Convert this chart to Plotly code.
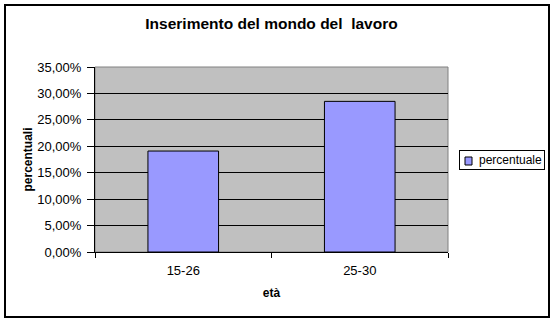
import plotly.graph_objects as go

categories = ["15-26", "25-30"]
values = [0.191, 0.285]
series_name = "percentuale"
y_ticks = [0, 0.05, 0.10, 0.15, 0.20, 0.25, 0.30, 0.35]

FONT = "Arial, Liberation Sans, sans-serif"
BAR_COLOR = "#9999FF"

# plot area in pixels
L, R, T, B = 95, 448, 67, 252
W, H = 556, 323
PW, PH = R - L, B - T


def px(x):
    return (x - L) / PW


def py(y):
    return (B - y) / PH


fig = go.Figure()
fig.add_trace(go.Bar(
    x=categories, y=values, name=series_name,
    marker=dict(color=BAR_COLOR, line=dict(color="black", width=1)),
    width=0.4, showlegend=False,
))

fig.update_layout(
    width=W, height=H,
    margin=dict(l=L, r=W - R, t=T, b=H - B, autoexpand=False),
    paper_bgcolor="white", plot_bgcolor="#C0C0C0",
    separators=",.",
    font=dict(family=FONT, size=13, color="black"),
    title=dict(text="Inserimento del mondo del  lavoro", x=0.5, xref="paper",
               xanchor="center", y=1 - 24 / H, yanchor="middle",
               font=dict(family=FONT, size=15.5, color="black", weight="bold")),
    showlegend=False,
    bargap=0.6,
)

fig.update_xaxes(
    title=dict(text="età", font=dict(family=FONT, size=12, weight="bold"), standoff=12),
    automargin=False,
    showline=True, linecolor="black", linewidth=1,
    ticks="outside", tickson="boundaries", ticklen=5, tickcolor="black",
    tickfont=dict(size=13), ticklabelstandoff=6,
    showgrid=False, zeroline=False,
)
fig.update_yaxes(
    title=dict(text="percentuali", font=dict(family=FONT, size=12, weight="bold"), standoff=2),
    automargin=False,
    range=[0, 0.35], tickvals=y_ticks, tickformat=".2%",
    showline=True, linecolor="black", linewidth=1,
    ticks="outside", ticklen=7, tickcolor="black",
    tickfont=dict(size=13), ticklabelstandoff=3,
    showgrid=True, gridcolor="black", gridwidth=1, zeroline=False,
)

# plot area border (gray top/right)
fig.add_shape(type="rect", xref="paper", yref="paper", x0=0, x1=1, y0=0, y1=1,
              line=dict(color="#808080", width=1), layer="below")
# outer chart border
fig.add_shape(type="rect", xref="paper", yref="paper",
              x0=px(5), x1=px(549), y0=py(317), y1=py(5),
              line=dict(color="black", width=2))

# legend box
fig.add_annotation(
    xref="paper", yref="paper", x=px(459), y=py(150),
    xanchor="left", yanchor="top", showarrow=False,
    text=series_name, align="right", width=80, height=14,
    borderpad=2, bordercolor="black", borderwidth=1, bgcolor="rgba(0,0,0,0)",
    font=dict(family=FONT, size=12, color="black"),
)
# legend swatch
fig.add_shape(type="rect", xref="paper", yref="paper",
              x0=px(465), x1=px(472), y0=py(165), y1=py(157),
              fillcolor=BAR_COLOR, line=dict(color="black", width=1))

fig.write_html("out.html")
